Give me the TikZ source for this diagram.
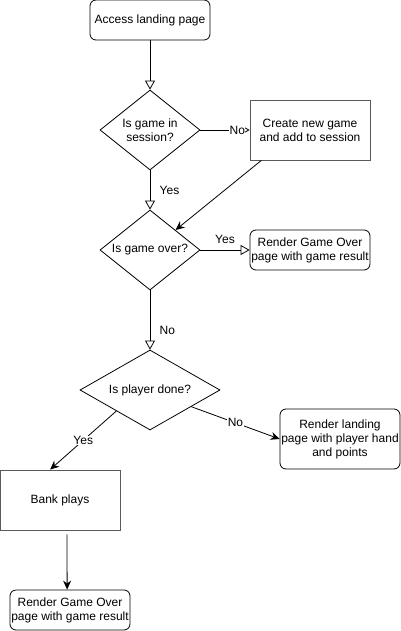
\documentclass[tikz,border=0pt]{standalone}
\usepackage{fontspec}
\setmainfont{Liberation Sans}
\usetikzlibrary{shapes.geometric,arrows.meta}

\begin{document}
\begin{tikzpicture}[x=1pt,y=-1pt,line width=0.8pt,
  font=\fontsize{12}{14}\selectfont,
  rbox/.style={draw,rounded corners=6pt,align=center,minimum width=120pt,minimum height=40pt,inner sep=1pt},
  pbox/.style={draw=black!65,align=center,minimum width=120pt,minimum height=60pt,inner sep=1pt},
  choice/.style={draw,diamond,align=center,inner sep=0pt,aspect=1.25,minimum width=100pt,minimum height=80pt},
  open/.style={draw,-{Triangle[open,length=9pt,width=10pt]}},
  filled/.style={draw,-{Stealth[length=9pt,width=8pt]}},
  lbl/.style={fill=white,inner sep=0.5pt}]
\useasboundingbox (0,0) rectangle (401,631);

\node[rbox] (access) at (150,20) {Access landing page};
\node[choice] (session) at (150,130) {Is game in\\session?};
\node[pbox] (create) at (310,130) {Create new game\\and add to session};
\node[choice] (over) at (150,250) {Is game over?};
\node[rbox] (result) at (310,250) {Render Game Over\\page with game result};
\node[choice,minimum width=140pt,aspect=1.75] (player) at (150,390) {Is player done?};
\node[rbox,minimum height=60pt] (landing) at (340,439) {Render landing\\page with player hand\\and points};
\node[pbox] (bank) at (60,500) {Bank plays};
\node[rbox] (final) at (70,610) {Render Game Over\\page with game result};

\path[open] (access) -- (session);
\path[open] (session) -- node[lbl,pos=0.75] {No} (create);
\path[open] (session) -- node[right=6pt] {Yes} (over);
\path[filled] (create.212) -- (over.38);
\path[open] (over) -- node[above=3pt] {Yes} (result);
\path[open] (over) -- node[right=6pt,pos=0.68] {No} (player);
\path[filled] (player.212) -- node[lbl] {Yes} (bank.108);
\path[filled] (player.-22) -- node[lbl] {No} (landing.west);
\path[filled,shorten <=4pt] (bank.-77) -- (final.98);
\end{tikzpicture}
\end{document}
